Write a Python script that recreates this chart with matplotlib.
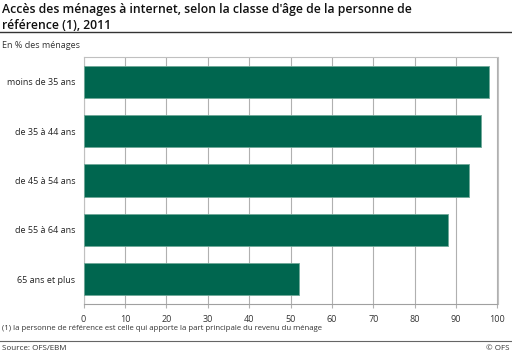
import matplotlib
matplotlib.use("Agg")
import matplotlib.pyplot as plt
from matplotlib.lines import Line2D

plt.rcParams['font.family'] = ['Open Sans', 'DejaVu Sans']

categories = ["moins de 35 ans", "de 35 à 44 ans", "de 45 à 54 ans", "de 55 à 64 ans", "65 ans et plus"]
values = [98.0, 96.0, 93.0, 88.0, 52.0]
xticks = [0, 10, 20, 30, 40, 50, 60, 70, 80, 90, 100]

fig = plt.figure(figsize=(5.12, 3.52), dpi=100)
ax = fig.add_axes([83.5/512, 1-304/352, (497.5-83.5)/512, (304-57)/352])

ypos = list(range(len(categories)))
ax.barh(ypos, values, height=0.65, color="#00664f", edgecolor="#6fa898", linewidth=0.6, zorder=3)
ax.set_ylim(len(categories)-0.5, -0.5)
ax.set_xlim(0, 100)
ax.set_xticks(xticks)
ax.set_xticklabels([str(t) for t in xticks], fontsize=6.5, color="#333333")
ax.set_yticks(ypos)
ax.set_yticklabels(categories, fontsize=6.5, color="#222222")
ax.tick_params(axis='y', length=0, pad=6)
ax.tick_params(axis='x', length=3, width=0.8, color="#b0b0b0", pad=5)
ax.grid(axis='x', color="#b0b0b0", linewidth=0.8, zorder=0)
for s in ax.spines.values():
    s.set_color("#c0c0c0")
    s.set_linewidth(0.8)
ax.spines['bottom'].set_color("#a0a0a0")

fig.text(2/512, 1-3/352, "Accès des ménages à internet, selon la classe d'âge de la personne de\nréférence (1), 2011",
         fontsize=8.8, fontweight='semibold', va='top', ha='left', color="#111111", linespacing=1.3)
fig.add_artist(Line2D([0, 1], [1-32/352, 1-32/352], color="#333333", linewidth=1.0, transform=fig.transFigure))
fig.text(2/512, 1-45/352, "En % des ménages", fontsize=6.5, va='center', ha='left', color="#333333")
fig.text(2/512, 1-328/352, "(1) la personne de référence est celle qui apporte la part principale du revenu du ménage",
         fontsize=5.6, va='center', ha='left', color="#333333")
fig.add_artist(Line2D([0, 1], [1-341/352, 1-341/352], color="#666666", linewidth=0.8, transform=fig.transFigure))
fig.text(2/512, 1-348/352, "Source: OFS/EBM", fontsize=5.8, va='center', ha='left', color="#333333")
fig.text(510/512, 1-348/352, "© OFS", fontsize=5.8, va='center', ha='right', color="#333333")

fig.savefig("out.png", dpi=100, facecolor="white")
